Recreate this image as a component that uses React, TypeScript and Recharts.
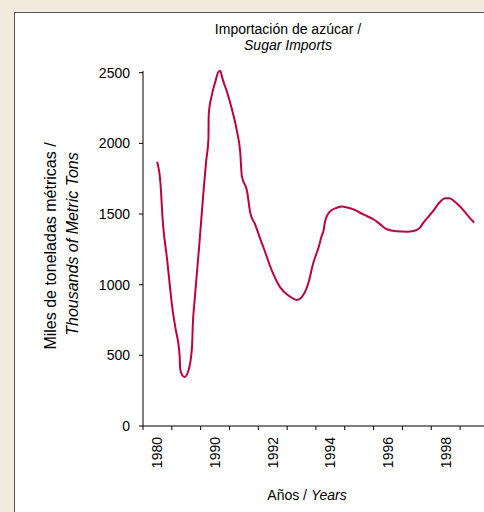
import React from 'react'
import { LineChart, Line, XAxis, YAxis } from 'recharts'

// slot labels along the x axis (one slot per tick interval)
const slotLabels = ['1980', '', '1990', '', '1992', '', '1994', '', '1996', '', '1998', '']

// position along the x axis (in slots) and imports, thousands of metric tons
const slotPos = [
  0.49, 0.6, 0.69, 0.83, 1.03, 1.12, 1.27, 1.29, 1.36, 1.44, 1.58, 1.7, 1.73, 1.79, 1.95,
  2.1, 2.19, 2.27, 2.28, 2.39, 2.51, 2.62, 2.68, 2.74, 2.79, 2.91, 3.09, 3.26, 3.37, 3.43,
  3.61, 3.72, 3.89, 4.07, 4.18, 4.47, 4.76, 5.05, 5.34, 5.57, 5.74, 5.91, 5.97, 6.09, 6.2,
  6.26, 6.32, 6.42, 6.55, 6.72, 6.91, 7.08, 7.3, 7.53, 7.76, 7.99, 8.23, 8.46, 8.8, 9.15,
  9.38, 9.61, 9.73, 10.02, 10.31, 10.48, 10.63, 10.83, 11.0, 11.23, 11.49,
]
const tons = [
  1870, 1732, 1437, 1190, 817, 699, 500, 406, 359, 347, 394, 558, 725, 887, 1275,
  1662, 1873, 2028, 2204, 2343, 2437, 2507, 2512, 2472, 2437, 2366, 2237, 2085, 1944, 1768,
  1662, 1509, 1427, 1322, 1263, 1099, 981, 923, 892, 930, 1014, 1155, 1192, 1263, 1345,
  1380, 1451, 1500, 1528, 1544, 1553, 1546, 1533, 1509, 1486, 1463, 1427, 1392, 1378, 1375,
  1380, 1404, 1439, 1509, 1587, 1611, 1611, 1585, 1553, 1498, 1439,
]
const yTicks = [0, 500, 1000, 1500, 2000, 2500]

const data = slotPos.map((x, i) => ({ x, tons: tons[i] }))
const xTicks = slotLabels.flatMap((_, i) => [i, i + 0.5])

const font = '"Liberation Sans", Arial, Helvetica, sans-serif'

function YearTick(props: any) {
  const { x, y, payload } = props
  const v = payload.value as number
  if (Number.isInteger(v)) {
    return <line x1={x} x2={x} y1={y} y2={y + 4} stroke="#000" strokeWidth={1} />
  }
  const label = slotLabels[Math.floor(v)]
  if (!label) return <g />
  return (
    <text
      transform={`translate(${x},${y + 11}) rotate(-90)`}
      textAnchor="end"
      dominantBaseline="central"
      fontSize={14}
      fontFamily={font}
      fill="#000"
    >
      {label}
    </text>
  )
}

export default function App() {
  return (
    <div style={{ position: 'fixed', left: 0, top: 0, width: 484, height: 512, overflow: 'hidden', background: '#f4ebdf' }}>
      <div style={{ position: 'absolute', left: 14, top: 12, width: 480, height: 510, background: '#fff', border: '1px solid #555' }} />
      <div style={{ position: 'absolute', left: 0, top: 0 }}>
        <LineChart width={484} height={512} data={data} margin={{ top: 71, right: 0, bottom: 0, left: 0 }}>
          <XAxis
            dataKey="x"
            type="number"
            domain={[0, 11.83]}
            ticks={xTicks}
            interval={0}
            tick={<YearTick />}
            tickLine={false}
            tickSize={0}
            tickMargin={0}
            height={86}
            axisLine={{ stroke: '#000', strokeWidth: 1 }}
          />
          <YAxis
            domain={[0, 2500]}
            ticks={yTicks}
            width={143}
            tickSize={4}
            tickMargin={9}
            tickLine={{ stroke: '#000' }}
            axisLine={{ stroke: '#000', strokeWidth: 1 }}
            tick={{ fontSize: 14, fill: '#000', fontFamily: font }}
          />
          <Line
            type="monotone"
            dataKey="tons"
            stroke="#be0040"
            strokeWidth={2}
            dot={false}
            isAnimationActive={false}
          />
        </LineChart>
      </div>
      <svg width={484} height={512} style={{ position: 'absolute', left: 0, top: 0, pointerEvents: 'none' }}>
        <text x={288} y={29} textAnchor="middle" dominantBaseline="central" fontSize={14} fontFamily={font} fill="#000">
          Importación de azúcar /
        </text>
        <text x={288} y={45} textAnchor="middle" dominantBaseline="central" fontSize={14} fontFamily={font} fontStyle="italic" fill="#000">
          Sugar Imports
        </text>
        <text transform="translate(50,246) rotate(-90)" textAnchor="middle" dominantBaseline="central" fontSize={16} fontFamily={font} fill="#000">
          Miles de toneladas métricas /
        </text>
        <text transform="translate(72,244) rotate(-90)" textAnchor="middle" dominantBaseline="central" fontSize={16} fontFamily={font} fontStyle="italic" fill="#000">
          Thousands of Metric Tons
        </text>
        <text x={307} y={495} textAnchor="middle" dominantBaseline="central" fontSize={14} fontFamily={font} fill="#000">
          Años / <tspan fontStyle="italic">Years</tspan>
        </text>
      </svg>
    </div>
  )
}
